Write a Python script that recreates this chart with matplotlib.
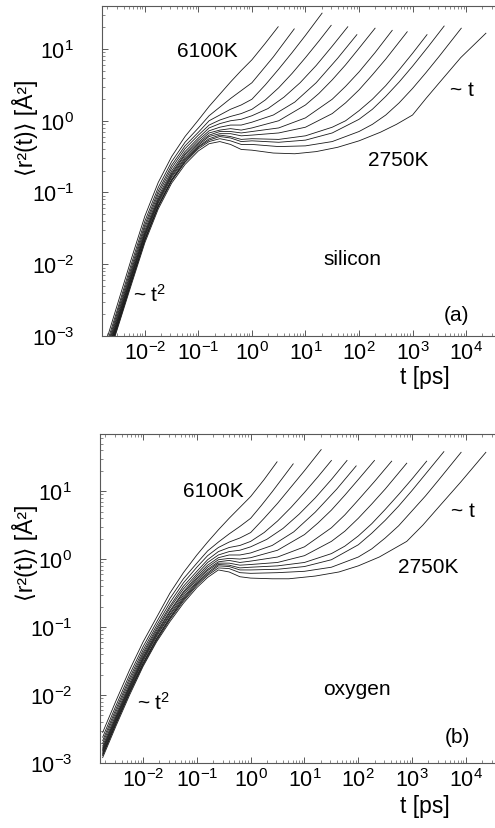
import numpy as np
import matplotlib
matplotlib.use('Agg')
import matplotlib.pyplot as plt
from matplotlib.ticker import LogLocator, NullFormatter

plt.rcParams['font.family'] = ['Liberation Sans', 'DejaVu Sans']
plt.rcParams['mathtext.fontset'] = 'custom'
plt.rcParams['mathtext.rm'] = 'Liberation Sans'
plt.rcParams['mathtext.it'] = 'Liberation Sans:italic'
plt.rcParams['mathtext.bf'] = 'Liberation Sans:bold'

# temperatures, hottest first
temps = [6100, 5200, 4700, 4300, 4000, 3760, 3580, 3400, 3250, 3100, 3000, 2900, 2750]

# short-time grid, log10(t / ps)
logt_short = [-2.75, -2.5, -2.25, -2.0, -1.75, -1.5, -1.25, -1.0, -0.8, -0.6, -0.4, -0.2, 0.0]

# silicon: log10 <r^2(t)> on the short-time grid
si_short = [
    [-3.14, -2.53, -1.92, -1.33, -0.86, -0.50, -0.22, 0.01, 0.20, 0.37, 0.54, 0.70, 0.85],
    [-3.20, -2.60, -1.99, -1.40, -0.93, -0.57, -0.30, -0.10, 0.07, 0.19, 0.31, 0.42, 0.53],
    [-3.25, -2.64, -2.04, -1.45, -0.98, -0.62, -0.35, -0.16, 0.00, 0.08, 0.16, 0.22, 0.30],
    [-3.28, -2.68, -2.08, -1.49, -1.02, -0.66, -0.39, -0.20, -0.06, 0.01, 0.06, 0.10, 0.16],
    [-3.31, -2.71, -2.11, -1.53, -1.06, -0.70, -0.43, -0.24, -0.10, -0.04, 0.00, 0.02, 0.07],
    [-3.34, -2.74, -2.14, -1.56, -1.09, -0.73, -0.46, -0.27, -0.14, -0.09, -0.06, -0.06, -0.02],
    [-3.35, -2.76, -2.16, -1.58, -1.11, -0.75, -0.48, -0.30, -0.17, -0.13, -0.11, -0.13, -0.10],
    [-3.37, -2.78, -2.18, -1.60, -1.13, -0.77, -0.51, -0.32, -0.20, -0.15, -0.15, -0.17, -0.15],
    [-3.39, -2.80, -2.20, -1.62, -1.15, -0.79, -0.53, -0.34, -0.22, -0.18, -0.18, -0.21, -0.20],
    [-3.41, -2.82, -2.23, -1.65, -1.18, -0.82, -0.55, -0.36, -0.25, -0.20, -0.22, -0.26, -0.25],
    [-3.42, -2.83, -2.24, -1.66, -1.19, -0.83, -0.57, -0.37, -0.27, -0.22, -0.24, -0.29, -0.28],
    [-3.44, -2.85, -2.25, -1.67, -1.20, -0.84, -0.58, -0.39, -0.29, -0.25, -0.28, -0.33, -0.33],
    [-3.46, -2.87, -2.28, -1.70, -1.23, -0.87, -0.61, -0.42, -0.32, -0.29, -0.33, -0.40, -0.41],
]

# silicon: long-time part of each run, log10 t and log10 <r^2>
si_tail_t = [
    [0.25, 0.49],
    [0.2, 0.4, 0.6, 0.79],
    [0.25, 0.5, 0.75, 1.0, 1.31],
    [0.25, 0.5, 0.75, 1.0, 1.25, 1.48],
    [0.3, 0.6, 0.9, 1.2, 1.5, 1.79],
    [0.4, 0.8, 1.2, 1.6, 1.96],
    [0.5, 1.0, 1.25, 1.5, 1.75, 2.0, 2.3],
    [0.5, 1.0, 1.5, 1.75, 2.0, 2.3, 2.62],
    [0.5, 1.0, 1.5, 1.75, 2.0, 2.25, 2.5, 2.7, 2.9],
    [0.5, 1.0, 1.5, 1.75, 2.0, 2.25, 2.5, 2.75, 3.0, 3.27],
    [0.5, 1.0, 1.5, 2.0, 2.25, 2.5, 2.75, 3.0, 3.3, 3.59],
    [0.5, 1.0, 1.5, 2.0, 2.25, 2.5, 2.75, 3.0, 3.25, 3.5, 3.91],
    [0.4, 0.8, 1.2, 1.6, 2.0, 2.4, 2.7, 3.0, 3.25, 3.5, 3.9, 4.37],
]
si_tail = [
    [1.08, 1.31],
    [0.71, 0.89, 1.09, 1.28],
    [0.50, 0.72, 0.95, 1.19, 1.50],
    [0.29, 0.46, 0.66, 0.88, 1.11, 1.33],
    [0.17, 0.33, 0.53, 0.77, 1.04, 1.31],
    [0.08, 0.26, 0.53, 0.87, 1.20],
    [0.00, 0.22, 0.38, 0.57, 0.78, 1.01, 1.29],
    [-0.10, 0.04, 0.30, 0.48, 0.68, 0.95, 1.26],
    [-0.17, -0.09, 0.10, 0.25, 0.43, 0.64, 0.86, 1.05, 1.24],
    [-0.26, -0.21, -0.09, 0.00, 0.14, 0.30, 0.49, 0.71, 0.94, 1.20],
    [-0.30, -0.27, -0.17, 0.02, 0.16, 0.34, 0.54, 0.76, 1.04, 1.32],
    [-0.36, -0.35, -0.29, -0.15, -0.05, 0.08, 0.25, 0.45, 0.67, 0.90, 1.29],
    [-0.45, -0.46, -0.43, -0.37, -0.28, -0.16, -0.05, 0.08, 0.31, 0.53, 0.88, 1.22],
]

# oxygen: log10 <r^2(t)> on the short-time grid
ox_short = [
    [-2.55, -2.08, -1.63, -1.22, -0.86, -0.50, -0.20, 0.06, 0.25, 0.43, 0.60, 0.76, 0.92],
    [-2.62, -2.15, -1.70, -1.29, -0.93, -0.58, -0.29, -0.06, 0.12, 0.25, 0.37, 0.48, 0.60],
    [-2.67, -2.20, -1.75, -1.34, -0.98, -0.64, -0.35, -0.12, 0.05, 0.17, 0.25, 0.31, 0.39],
    [-2.71, -2.24, -1.79, -1.38, -1.02, -0.69, -0.40, -0.18, -0.01, 0.11, 0.17, 0.20, 0.26],
    [-2.75, -2.28, -1.83, -1.41, -1.05, -0.72, -0.44, -0.22, -0.05, 0.06, 0.11, 0.13, 0.18],
    [-2.78, -2.31, -1.86, -1.44, -1.08, -0.76, -0.48, -0.25, -0.09, 0.02, 0.06, 0.06, 0.09],
    [-2.80, -2.33, -1.88, -1.46, -1.10, -0.78, -0.50, -0.28, -0.12, -0.01, 0.01, 0.00, 0.02],
    [-2.82, -2.35, -1.90, -1.48, -1.12, -0.81, -0.53, -0.30, -0.15, -0.04, -0.02, -0.05, -0.03],
    [-2.84, -2.37, -1.92, -1.50, -1.14, -0.83, -0.56, -0.33, -0.17, -0.06, -0.06, -0.09, -0.08],
    [-2.86, -2.39, -1.94, -1.53, -1.17, -0.86, -0.58, -0.35, -0.20, -0.08, -0.09, -0.13, -0.12],
    [-2.88, -2.41, -1.96, -1.54, -1.18, -0.87, -0.60, -0.37, -0.22, -0.10, -0.11, -0.16, -0.16],
    [-2.89, -2.42, -1.97, -1.56, -1.20, -0.89, -0.62, -0.39, -0.24, -0.13, -0.14, -0.20, -0.21],
    [-2.92, -2.45, -2.00, -1.58, -1.22, -0.92, -0.65, -0.42, -0.27, -0.16, -0.19, -0.26, -0.28],
]

# oxygen: long-time part of each run
ox_tail_t = [
    [0.25, 0.49],
    [0.2, 0.4, 0.6, 0.79],
    [0.25, 0.5, 0.75, 1.0, 1.31],
    [0.25, 0.5, 0.75, 1.0, 1.25, 1.5],
    [0.3, 0.6, 0.9, 1.2, 1.5, 1.79],
    [0.4, 0.8, 1.2, 1.6, 1.96],
    [0.5, 1.0, 1.25, 1.5, 1.75, 2.0, 2.3],
    [0.5, 1.0, 1.5, 1.75, 2.0, 2.3, 2.62],
    [0.5, 1.0, 1.5, 1.75, 2.0, 2.25, 2.5, 2.7, 2.9],
    [0.5, 1.0, 1.5, 1.75, 2.0, 2.25, 2.5, 2.75, 3.0, 3.27],
    [0.5, 1.0, 1.5, 2.0, 2.25, 2.5, 2.75, 3.0, 3.3, 3.59],
    [0.5, 1.0, 1.5, 2.0, 2.25, 2.5, 2.75, 3.0, 3.25, 3.5, 3.91],
    [0.4, 0.71, 1.2, 1.64, 2.0, 2.39, 2.9, 3.2, 3.51, 3.9, 4.37],
]
ox_tail = [
    [1.17, 1.43],
    [0.79, 0.99, 1.20, 1.40],
    [0.60, 0.82, 1.06, 1.30, 1.61],
    [0.39, 0.56, 0.76, 0.98, 1.21, 1.45],
    [0.29, 0.45, 0.66, 0.90, 1.17, 1.45],
    [0.20, 0.40, 0.69, 1.03, 1.37],
    [0.13, 0.36, 0.53, 0.72, 0.94, 1.17, 1.45],
    [0.03, 0.18, 0.46, 0.65, 0.87, 1.14, 1.44],
    [-0.05, 0.05, 0.26, 0.41, 0.60, 0.81, 1.03, 1.22, 1.41],
    [-0.10, -0.05, 0.08, 0.19, 0.34, 0.52, 0.73, 0.95, 1.18, 1.44],
    [-0.15, -0.11, -0.01, 0.21, 0.38, 0.57, 0.78, 1.01, 1.30, 1.58],
    [-0.20, -0.18, -0.12, 0.03, 0.15, 0.31, 0.49, 0.71, 0.93, 1.17, 1.57],
    [-0.29, -0.29, -0.25, -0.19, -0.10, 0.03, 0.26, 0.50, 0.78, 1.13, 1.57],
]


def msd_panel(ax, short_vals, tail_t, tail_vals, ymax, notes):
    for k in range(len(temps)):
        lt = np.array(logt_short + tail_t[k])
        lm = np.array(short_vals[k] + tail_vals[k])
        ax.plot(10.0 ** lt, 10.0 ** lm, color='0.1', lw=0.6)

    ax.set_xscale('log')
    ax.set_yscale('log')
    ax.set_xlim(10 ** -2.8, 10 ** 4.54)
    ax.set_ylim(1e-3, ymax)
    ax.xaxis.set_major_locator(LogLocator(base=10, numticks=20))
    ax.xaxis.set_minor_locator(LogLocator(base=10, subs=np.arange(2, 10), numticks=20))
    ax.xaxis.set_minor_formatter(NullFormatter())
    ax.yaxis.set_minor_locator(LogLocator(base=10, subs=np.arange(2, 10), numticks=20))
    ax.yaxis.set_minor_formatter(NullFormatter())

    ax.spines['right'].set_visible(False)
    for s in ['left', 'top', 'bottom']:
        ax.spines[s].set_linewidth(0.8)
        ax.spines[s].set_color('0.35')
    ax.tick_params(axis='x', which='both', direction='in', top=True, bottom=True,
                   color='0.35', labelsize=15.5, pad=4)
    ax.tick_params(axis='y', which='both', direction='in', left=True, right=False,
                   color='0.35', labelsize=15.5, pad=20)
    ax.tick_params(which='major', length=4, width=0.7)
    ax.tick_params(which='minor', length=2, width=0.5)

    ax.set_ylabel('⟨r²(t)⟩ [Å²]', fontsize=16.5)
    ax.set_xlabel('t [ps]', fontsize=16.5)

    for txt, x, y in notes:
        ax.text(x, y, txt, transform=ax.transAxes, fontsize=15,
                ha='center', va='center')


fig = plt.figure(figsize=(4.95, 8.29), dpi=100)

ax_si = fig.add_axes([0.2061, 0.5935, 0.7939, 0.3981])
msd_panel(ax_si, si_short, si_tail_t, si_tail, 10 ** 1.60,
          [('6100K', 0.267, 0.864), ('~ t', 0.916, 0.748), ('2750K', 0.753, 0.536),
           ('silicon', 0.636, 0.236), ('(a)', 0.903, 0.064), (r'~ t$^2$', 0.122, 0.127)])
ax_si.yaxis.set_label_coords(-0.163, 0.633)
ax_si.xaxis.set_label_coords(0.822, -0.088)

ax_ox = fig.add_axes([0.2020, 0.0784, 0.7980, 0.3969])
msd_panel(ax_ox, ox_short, ox_tail_t, ox_tail, 10 ** 1.84,
          [('6100K', 0.286, 0.827), ('~ t', 0.919, 0.766), ('2750K', 0.830, 0.596),
           ('oxygen', 0.651, 0.225), ('(b)', 0.904, 0.082), (r'~ t$^2$', 0.137, 0.185)])
ax_ox.yaxis.set_label_coords(-0.157, 0.641)
ax_ox.xaxis.set_label_coords(0.823, -0.094)

fig.savefig('out.png', dpi=100)
